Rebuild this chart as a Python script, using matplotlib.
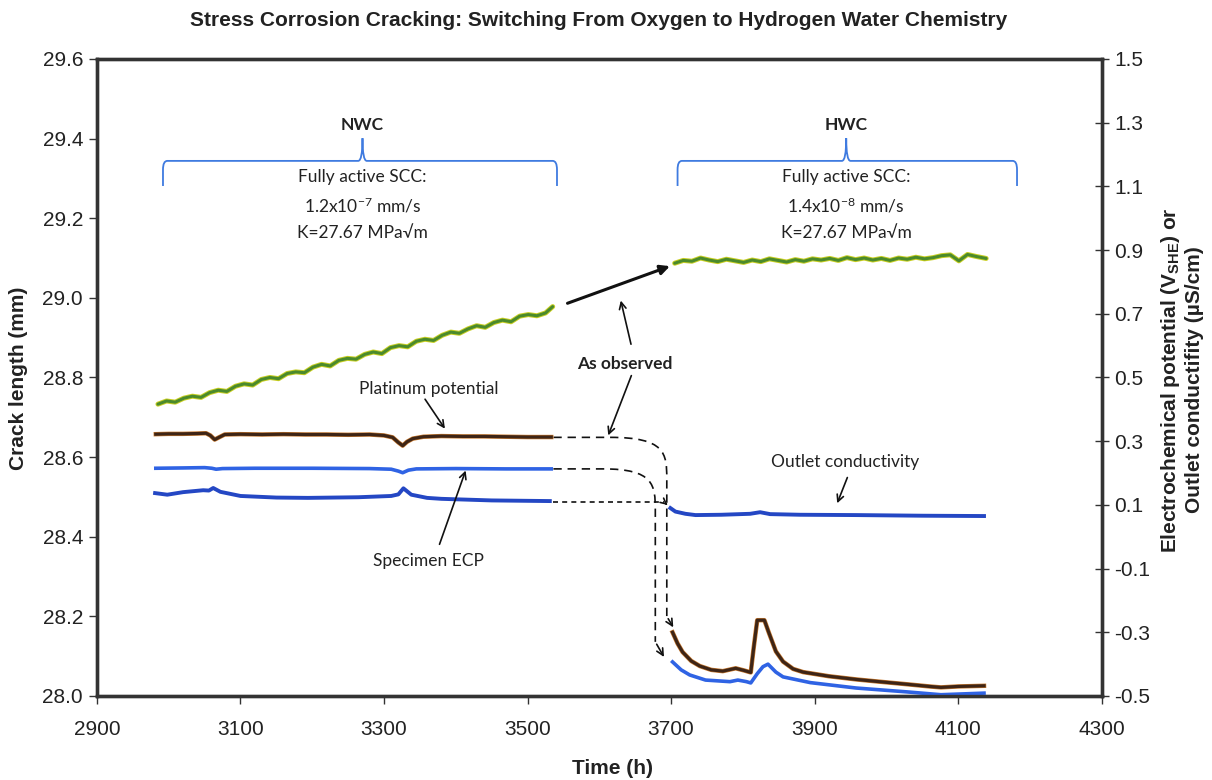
import matplotlib
matplotlib.use('Agg')
import matplotlib.pyplot as plt
from matplotlib.path import Path
from matplotlib.patches import PathPatch

plt.rcParams['font.family'] = ['Liberation Sans', 'DejaVu Sans']
plt.rcParams['mathtext.default'] = 'regular'

# crack length (mm), before and after the switch
crack_t_nwc = [2985, 2997, 3009, 3021, 3033, 3045, 3057, 3069, 3081, 3093, 3105, 3117,
               3129, 3141, 3153, 3165, 3177, 3189, 3201, 3213, 3225, 3237, 3249, 3261,
               3273, 3285, 3297, 3309, 3321, 3333, 3345, 3357, 3369, 3381, 3393, 3405,
               3417, 3429, 3441, 3453, 3465, 3477, 3489, 3501, 3513, 3525, 3535]
crack_nwc = [28.733, 28.741, 28.738, 28.748, 28.753, 28.750, 28.762, 28.768, 28.765, 28.778,
             28.784, 28.781, 28.795, 28.800, 28.797, 28.810, 28.814, 28.812, 28.826, 28.833,
             28.829, 28.843, 28.848, 28.846, 28.858, 28.864, 28.860, 28.875, 28.880, 28.877,
             28.891, 28.896, 28.893, 28.906, 28.914, 28.911, 28.922, 28.930, 28.926, 28.938,
             28.944, 28.940, 28.954, 28.958, 28.955, 28.962, 28.978]
crack_t_hwc = [3705, 3717, 3729, 3741, 3753, 3765, 3777, 3789, 3801, 3813, 3825, 3837, 3849,
               3861, 3873, 3885, 3897, 3909, 3921, 3933, 3945, 3957, 3969, 3981, 3993, 4005,
               4017, 4029, 4041, 4053, 4065, 4077, 4089, 4101, 4113, 4125, 4139]
crack_hwc = [29.087, 29.094, 29.092, 29.100, 29.095, 29.091, 29.097, 29.093, 29.089, 29.095,
             29.091, 29.098, 29.094, 29.090, 29.096, 29.092, 29.098, 29.095, 29.099, 29.094,
             29.101, 29.096, 29.100, 29.095, 29.099, 29.094, 29.100, 29.097, 29.102, 29.098,
             29.101, 29.106, 29.108, 29.093, 29.109, 29.104, 29.099]

# platinum potential (V_SHE)
pt_t_nwc = [2982, 3000, 3020, 3040, 3052, 3058, 3064, 3070, 3078, 3100, 3130, 3160, 3190,
            3220, 3250, 3280, 3300, 3312, 3320, 3326, 3332, 3340, 3355, 3380, 3410, 3440,
            3470, 3500, 3533]
pt_nwc = [0.322, 0.323, 0.323, 0.324, 0.325, 0.318, 0.305, 0.312, 0.321, 0.322, 0.321, 0.322,
          0.321, 0.321, 0.320, 0.321, 0.318, 0.312, 0.296, 0.286, 0.298, 0.308, 0.314, 0.316,
          0.315, 0.315, 0.314, 0.313, 0.313]
pt_t_hwc = [3702, 3709, 3716, 3728, 3740, 3756, 3772, 3790, 3802, 3811, 3815, 3820, 3830,
            3836, 3846, 3856, 3870, 3884, 3920, 3958, 3990, 4028, 4060, 4076, 4100, 4136]
pt_hwc = [-0.300, -0.335, -0.362, -0.390, -0.406, -0.418, -0.422, -0.413, -0.420, -0.426,
          -0.350, -0.262, -0.262, -0.300, -0.360, -0.392, -0.415, -0.425, -0.438, -0.448,
          -0.455, -0.463, -0.470, -0.473, -0.470, -0.468]

# specimen ECP (V_SHE)
ecp_t_nwc = [2982, 3020, 3050, 3060, 3066, 3075, 3120, 3200, 3280, 3310, 3320, 3326, 3334,
             3345, 3400, 3470, 3533]
ecp_nwc = [0.215, 0.216, 0.217, 0.215, 0.212, 0.214, 0.215, 0.215, 0.214, 0.212, 0.206,
           0.201, 0.209, 0.213, 0.214, 0.213, 0.213]
ecp_t_hwc = [3702, 3714, 3726, 3748, 3782, 3793, 3805, 3811, 3820, 3828, 3835, 3846, 3856,
             3894, 3958, 4028, 4076, 4136]
ecp_hwc = [-0.393, -0.418, -0.434, -0.450, -0.455, -0.450, -0.455, -0.459, -0.430, -0.408,
           -0.400, -0.425, -0.440, -0.458, -0.475, -0.487, -0.496, -0.491]

# outlet conductivity (uS/cm)
cond_t_nwc = [2981, 2998, 3020, 3048, 3056, 3062, 3072, 3100, 3150, 3194, 3264, 3310, 3320,
              3327, 3338, 3360, 3380, 3450, 3531]
cond_nwc = [0.137, 0.132, 0.140, 0.146, 0.145, 0.153, 0.141, 0.128, 0.123, 0.122, 0.124,
            0.128, 0.133, 0.152, 0.132, 0.122, 0.119, 0.114, 0.112]
cond_t_hwc = [3699, 3706, 3720, 3734, 3770, 3810, 3824, 3838, 3880, 3958, 4050, 4136]
cond_hwc = [0.090, 0.079, 0.072, 0.068, 0.069, 0.072, 0.077, 0.071, 0.069, 0.068, 0.066, 0.065]

x_ticks = [2900, 3100, 3300, 3500, 3700, 3900, 4100, 4300]
left_ticks = [28.0, 28.2, 28.4, 28.6, 28.8, 29.0, 29.2, 29.4, 29.6]
right_ticks = [-0.5, -0.3, -0.1, 0.1, 0.3, 0.5, 0.7, 0.9, 1.1, 1.3, 1.5]

ink = '#222222'
spine_c = '#333333'
brace_c = '#3f7be0'
calib = ['Lato', 'DejaVu Sans']
note_fs = 12.5

fig = plt.figure(figsize=(12.12, 7.8), dpi=100)
ax = fig.add_axes([0.080, 0.1077, 0.829, 0.8167])
ax2 = ax.twinx()

ax.set_xlim(2900, 4300)
ax.set_ylim(28.0, 29.6)
ax2.set_ylim(-0.5, 1.5)
ax.set_xticks(x_ticks)
ax.set_yticks(left_ticks)
ax.set_yticklabels(['%.1f' % v for v in left_ticks])
ax2.set_yticks(right_ticks)
ax2.set_yticklabels(['%.1f' % v for v in right_ticks])

for a in (ax, ax2):
    for s in a.spines.values():
        s.set_color(spine_c)
        s.set_linewidth(2.4)
ax.tick_params(axis='x', direction='out', length=6, width=1, colors=spine_c,
               labelsize=15, labelcolor=ink, pad=11, top=False)
ax.tick_params(axis='y', direction='out', length=6, width=1, colors=spine_c,
               labelsize=15, labelcolor=ink, pad=4)
ax2.tick_params(axis='y', direction='inout', length=10, width=1, colors=spine_c,
                labelsize=15, labelcolor=ink, pad=4)

# crack length traces
for t, v in ((crack_t_nwc, crack_nwc), (crack_t_hwc, crack_hwc)):
    ax.plot(t, v, color='#c9cf22', lw=3.6, solid_capstyle='round')
    ax.plot(t, v, color='#4b8a2c', lw=2.2, solid_capstyle='round')

# potentials and conductivity on the right axis
for t, v in ((pt_t_nwc, pt_nwc), (pt_t_hwc, pt_hwc)):
    ax2.plot(t, v, color='#c87a30', lw=3.2)
    ax2.plot(t, v, color='#3e2516', lw=2.3)
ax2.plot(ecp_t_nwc, ecp_nwc, color='#2f63e4', lw=2.6)
ax2.plot(ecp_t_hwc, ecp_hwc, color='#2f63e4', lw=2.6)
ax2.plot(cond_t_nwc, cond_nwc, color='#2447c4', lw=2.8)
ax2.plot(cond_t_hwc, cond_hwc, color='#2447c4', lw=2.8)


def brace(a, x0, x1, xc, y_end, y_mid, y_tip):
    dx = 6
    dy = (y_mid - y_end) * 0.35
    verts = [(x0, y_end), (x0, y_mid - dy), (x0, y_mid), (x0 + dx, y_mid),
             (xc - dx, y_mid), (xc, y_mid), (xc, y_tip),
             (xc, y_mid), (xc + dx, y_mid),
             (x1 - dx, y_mid), (x1, y_mid), (x1, y_mid - dy), (x1, y_end)]
    codes = [Path.MOVETO, Path.LINETO, Path.CURVE3, Path.CURVE3,
             Path.LINETO, Path.CURVE3, Path.CURVE3,
             Path.CURVE3, Path.CURVE3,
             Path.LINETO, Path.CURVE3, Path.CURVE3, Path.LINETO]
    a.add_patch(PathPatch(Path(verts, codes), fill=False, ec=brace_c, lw=1.3))


brace(ax, 2992, 3541, 3270, 29.281, 29.344, 29.401)
brace(ax, 3709, 4182, 3944, 29.281, 29.344, 29.401)

for xc, label, rate in ((3270, 'NWC', '1.2x10$^{-7}$ mm/s'), (3944, 'HWC', '1.4x10$^{-8}$ mm/s')):
    ax.text(xc, 29.434, label, ha='center', va='center', fontsize=note_fs, fontweight='bold',
            family=calib, color=ink)
    ax.text(xc, 29.304, 'Fully active SCC:', ha='center', va='center', fontsize=note_fs,
            family=calib, color=ink)
    ax.text(xc, 29.231, rate, ha='center', va='center', fontsize=note_fs, family=calib, color=ink)
    ax.text(xc, 29.163, 'K=27.67 MPa\u221am', ha='center', va='center', fontsize=note_fs,
            family=calib, color=ink)

# bridging arrow for the crack length
ax.annotate('', xy=(3702, 29.082), xytext=(3552, 28.984),
            arrowprops=dict(arrowstyle='-|>', color='#111111', lw=2.2, mutation_scale=14))

# "As observed" pointers
ax2.text(3635, 0.542, 'As observed', ha='center', va='center', fontsize=note_fs,
         fontweight='bold', family=calib, color=ink)
thin = dict(arrowstyle='->', color='#111111', lw=1.2, mutation_scale=12)
ax2.annotate('', xy=(3629, 0.750), xytext=(3645, 0.596), arrowprops=thin)
ax2.annotate('', xy=(3611, 0.310), xytext=(3646, 0.514), arrowprops=thin)

# series labels
ax2.text(3363, 0.464, 'Platinum potential', ha='center', va='center', fontsize=note_fs,
         family=calib, color=ink)
ax2.annotate('', xy=(3387, 0.332), xytext=(3355, 0.439), arrowprops=thin)
ax2.text(3362, -0.076, 'Specimen ECP', ha='center', va='center', fontsize=note_fs,
         family=calib, color=ink)
ax2.annotate('', xy=(3415, 0.216), xytext=(3376, -0.032), arrowprops=thin)
ax2.text(3942, 0.235, 'Outlet conductivity', ha='center', va='center', fontsize=note_fs,
         family=calib, color=ink)
ax2.annotate('', xy=(3930, 0.097), xytext=(3947, 0.194), arrowprops=thin)


# dashed guides from the NWC traces down to the HWC traces
def guide(a, x_start, y_level, x_bend, x_drop, y_drop_end, tip, dashes):
    verts = [(x_start, y_level), (x_bend, y_level),
             (x_drop - 2, y_level), (x_drop, y_level - 0.05), (x_drop, y_level - 0.13),
             (x_drop, y_drop_end)]
    codes = [Path.MOVETO, Path.LINETO, Path.CURVE4, Path.CURVE4, Path.CURVE4, Path.LINETO]
    a.add_patch(PathPatch(Path(verts, codes), fill=False, ec='#111111', lw=1.2,
                          linestyle=(0, dashes)))
    a.annotate('', xy=tip, xytext=(x_drop, y_drop_end),
               arrowprops=dict(arrowstyle='->', color='#111111', lw=1.2, mutation_scale=12))


guide(ax2, 3536, 0.312, 3615, 3694, -0.25, (3705, -0.292), (5, 3.5))
guide(ax2, 3536, 0.213, 3605, 3678, -0.33, (3692, -0.385), (5, 3.5))
ax2.plot([3536, 3690], [0.109, 0.109], color='#111111', lw=1.2, linestyle=(0, (3, 2.5)))
ax2.annotate('', xy=(3698, 0.094), xytext=(3690, 0.109),
             arrowprops=dict(arrowstyle='->', color='#111111', lw=1.2, mutation_scale=10))

# titles and axis labels
fig.text(0.494, 1 - 20 / 780, 'Stress Corrosion Cracking: Switching From Oxygen to Hydrogen Water Chemistry',
         ha='center', va='center', fontsize=15, fontweight='bold', color=ink)
fig.text(19 / 1212, 1 - 378 / 780, 'Crack length (mm)', rotation=90, ha='center', va='center',
         fontsize=15, fontweight='bold', color=ink)
fig.text(612 / 1212, 1 - 768 / 780, 'Time (h)', ha='center', va='center',
         fontsize=15, fontweight='bold', color=ink)
fig.text(1182 / 1212, 1 - 380 / 780,
         'Electrochemical potential (V$_{SHE}$) or\nOutlet conductifity (\u00b5S/cm)',
         rotation=90, ha='center', va='center', fontsize=15, fontweight='bold',
         color=ink, linespacing=1.2, multialignment='center')

fig.savefig('out.png', dpi=100, facecolor='white')
